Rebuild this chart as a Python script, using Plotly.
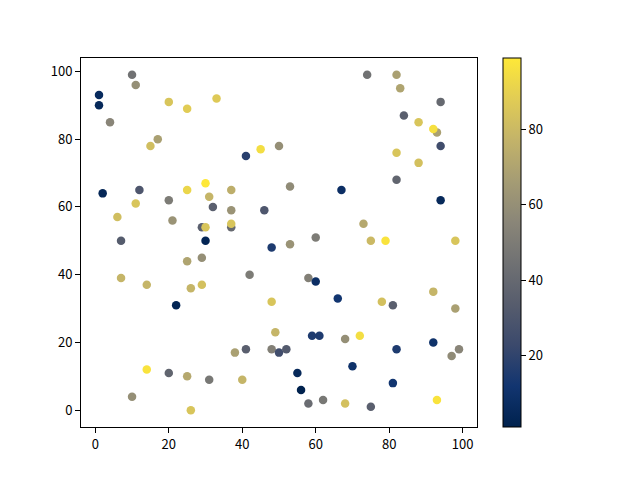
import plotly.graph_objects as go

# scatter points (x, y, colour value)
xs = [10, 11, 1, 1, 4, 20, 25, 33, 17, 15,
      41, 45, 50, 2, 12, 25, 30, 31, 37, 20,
      32, 46, 11, 6, 21, 37, 29, 30, 37, 37,
      7, 30, 74, 82, 83, 94, 84, 88, 93, 92,
      82, 94, 88, 82, 53, 67, 94, 73, 60, 48,
      25, 29, 42, 7, 14, 26, 29, 22, 48, 49,
      38, 41, 48, 50, 14, 20, 25, 31, 40, 10,
      26, 53, 75, 79, 98, 58, 60, 66, 78, 81,
      92, 98, 59, 61, 68, 72, 52, 82, 92, 99,
      97, 70, 55, 56, 58, 62, 68, 75, 81, 93]
ys = [99, 96, 93, 90, 85, 91, 89, 92, 80, 78,
      75, 77, 78, 64, 65, 65, 67, 63, 65, 62,
      60, 59, 61, 57, 56, 59, 54, 54, 54, 55,
      50, 50, 99, 99, 95, 91, 87, 85, 82, 83,
      76, 78, 73, 68, 66, 65, 62, 55, 51, 48,
      44, 45, 40, 39, 37, 36, 37, 31, 32, 23,
      17, 18, 18, 17, 12, 11, 10, 9, 9, 4,
      0, 49, 50, 50, 50, 39, 38, 33, 32, 31,
      35, 30, 22, 22, 21, 22, 18, 18, 20, 18,
      16, 13, 11, 6, 2, 3, 2, 1, 8, 3]
cs = [45, 60, 6, 5, 55, 85, 88, 87, 68, 82,
      18, 95, 60, 4, 30, 92, 99, 78, 75, 50,
      35, 30, 85, 82, 62, 62, 35, 85, 40, 85,
      33, 3, 45, 68, 70, 40, 35, 85, 68, 96,
      85, 25, 83, 38, 58, 8, 5, 72, 50, 15,
      70, 60, 50, 78, 78, 78, 83, 3, 85, 78,
      68, 35, 52, 25, 97, 38, 72, 48, 78, 60,
      85, 62, 80, 97, 85, 52, 8, 12, 83, 35,
      78, 68, 15, 15, 60, 95, 32, 15, 10, 55,
      58, 10, 5, 1, 42, 48, 83, 35, 12, 97]

fig = go.Figure()

fig.add_trace(go.Scatter(
    x=xs, y=ys, mode="markers",
    marker=dict(
        size=8.5, color=cs, colorscale="cividis",
        line=dict(width=0),
        colorbar=dict(
            x=1.065, xanchor="left", xpad=0,
            y=0.5, yanchor="middle", ypad=0,
            len=1.0, lenmode="fraction", thickness=18,
            outlinewidth=1, outlinecolor="black",
            ticks="outside", ticklen=5, tickwidth=1, tickcolor="black",
            tickvals=[20, 40, 60, 80],
            tickfont=dict(size=13, color="black"),
        ),
    ),
    showlegend=False,
))

axis_style = dict(
    showline=True, mirror=True, linecolor="black", linewidth=1,
    ticks="outside", ticklen=5, tickwidth=1, tickcolor="black",
    showgrid=False, zeroline=False,
    tickfont=dict(size=13, color="black"),
)

fig.update_xaxes(range=[-3.9, 103.9], tickvals=[0, 20, 40, 60, 80, 100], **axis_style)
fig.update_yaxes(range=[-4.95, 103.95], tickvals=[0, 20, 40, 60, 80, 100], **axis_style)

# page body adds an 8px offset, so margins are shifted to compensate
fig.update_layout(
    width=640, height=480,
    margin=dict(l=73, r=171, t=50, b=61),
    plot_bgcolor="white", paper_bgcolor="white",
    font=dict(family="Noto Sans CJK SC, DejaVu Sans, sans-serif", size=13, color="black"),
)

fig.write_html("out.html")
